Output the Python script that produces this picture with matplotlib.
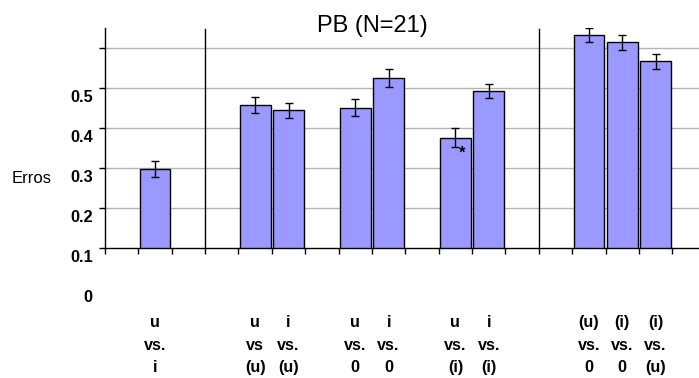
import numpy as np
import matplotlib
matplotlib.use('Agg')
from matplotlib import pyplot as plt

plt.rcParams['font.family'] = ['Liberation Sans', 'DejaVu Sans']

# error rate per comparison, in slot order along the x axis
slots = [1, 4, 5, 7, 8, 10, 11, 14, 15, 16]
labels = ['u\nvs.\ni',
          'u\nvs\n(u)', 'i\nvs.\n(u)',
          'u\nvs.\n0', 'i\nvs.\n0',
          'u\nvs.\n(i)', 'i\nvs.\n(i)',
          '(u)\nvs.\n0', '(i)\nvs.\n0', '(i)\nvs.\n(u)']
erros = [0.297, 0.458, 0.444, 0.451, 0.525, 0.376, 0.492, 0.632, 0.614, 0.567]
sem = [0.020, 0.020, 0.019, 0.021, 0.022, 0.024, 0.018, 0.018, 0.019, 0.019]
starred = [5]  # index into the lists above

ytick_vals = [0.5, 0.4, 0.3, 0.2, 0.1, 0.0]
ytick_labels = ['0.5', '0.4', '0.3', '0.2', '0.1', '0']
grid_vals = [0.2, 0.3, 0.4, 0.5, 0.6]
separators = [3, 13]
n_slots = 18

fig = plt.figure(figsize=(6.99, 3.78), dpi=100)
ax = fig.add_axes([105/699., 130/378., 594/699., 220/378.])

pos = np.array(slots) + 0.5
ax.bar(pos, np.array(erros) - 0.1, bottom=0.1, width=0.92,
       color='#9999FF', edgecolor='black', linewidth=1.0, zorder=3)
ax.errorbar(pos, erros, yerr=sem, fmt='none', ecolor='black',
            elinewidth=1.0, capsize=3, capthick=1.0, zorder=4)

for i in starred:
    ax.text(pos[i] + 0.2, erros[i] - sem[i] + 0.003, '*', ha='center', va='top',
            fontsize=12, fontweight='bold', zorder=5)

ax.set_xlim(0, 17.8)
ax.set_ylim(0.1, 0.65)

for g in grid_vals:
    ax.axhline(g, color='#b4b4b4', linewidth=1.0, zorder=1)
for s in separators:
    ax.axvline(s, ymax=0.996, color='black', linewidth=1.0, zorder=2)

ax.set_xticks(np.arange(n_slots))
ax.set_xticklabels([])
ax.set_yticks(grid_vals + [0.1])
ax.set_yticklabels([])
ax.tick_params(axis='both', direction='out', length=4, width=1.0, color='black')

for side in ['top', 'right']:
    ax.spines[side].set_visible(False)
for side in ['left', 'bottom']:
    ax.spines[side].set_color('black')
    ax.spines[side].set_linewidth(1.0)

# y labels sit a little below their value, as in the old spreadsheet layout
for v, t in zip(ytick_vals, ytick_labels):
    ax.annotate(t, xy=(0, v), xycoords=('axes fraction', 'data'),
                xytext=(-8.9, -9.9), textcoords='offset points',
                ha='right', va='baseline', fontsize=11.7, fontweight='bold',
                annotation_clip=False)

# three-row category labels under each bar
row_offsets = [-56.7, -73.1, -89.3]
for p, lab in zip(pos, labels):
    for off, row in zip(row_offsets, lab.split('\n')):
        ax.annotate(row, xy=(p, 0.1), xycoords='data',
                    xytext=(0, off), textcoords='offset points',
                    ha='center', va='baseline', fontsize=11.7, fontweight='bold',
                    annotation_clip=False)

fig.text(12/699., (378 - 182.7)/378., 'Erros', ha='left', va='baseline', fontsize=12)
fig.text(372/699., (378 - 32.3)/378., 'PB (N=21)', ha='center', va='baseline', fontsize=17)

fig.savefig('out.png', dpi=100)
